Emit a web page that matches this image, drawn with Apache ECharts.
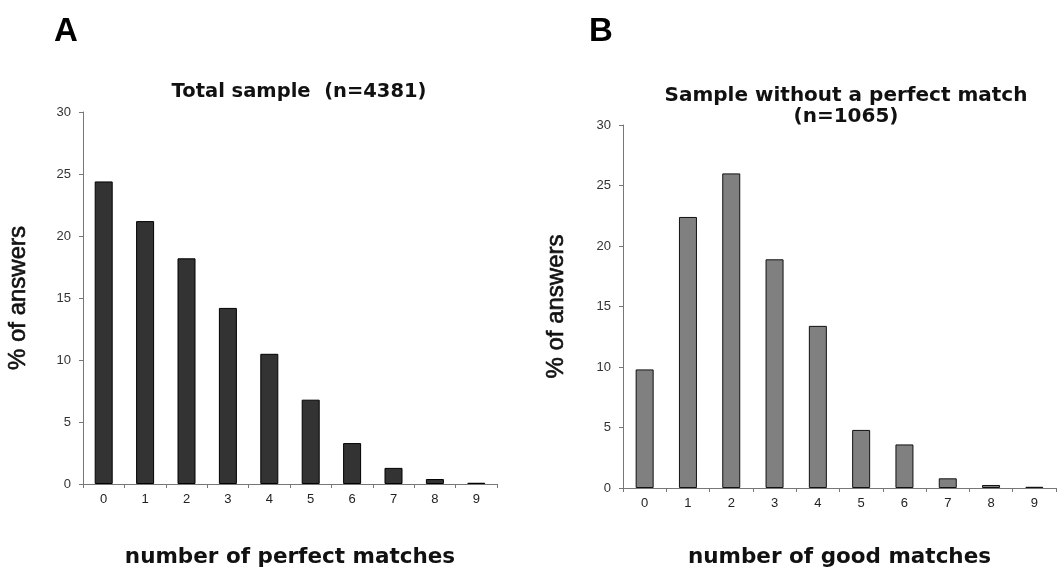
<!DOCTYPE html>
<html>
<head>
<meta charset="utf-8">
<script src="https://cdn.jsdelivr.net/npm/echarts@6/dist/echarts.min.js"></script>
<style>html,body{margin:0;padding:0;background:#fff;}#c{width:1059px;height:581px;}</style>
</head>
<body>
<div id="c"></div>
<script>
const categories = ['0','1','2','3','4','5','6','7','8','9'];
const totalSample = [24.4, 21.2, 18.2, 14.2, 10.5, 6.8, 3.3, 1.3, 0.4, 0.1];
const noPerfectSample = [9.8, 22.4, 26.0, 18.9, 13.4, 4.8, 3.6, 0.8, 0.25, 0.1];
const yTicks = [0, 5, 10, 15, 20, 25, 30];

const chart = echarts.init(document.getElementById('c'), null, {renderer: 'canvas'});

function xAxis(gridIndex, name, gap) {
  return {
    type: 'category', gridIndex, data: categories, boundaryGap: true,
    name, nameLocation: 'middle', nameGap: gap,
    nameTextStyle: {fontFamily: 'DejaVu Sans', fontWeight: 'bold', fontSize: 21.5, color: '#111'},
    axisLine: {lineStyle: {color: '#777', width: 1}},
    axisTick: {show: true, alignWithLabel: false, length: 4, inside: false, lineStyle: {color: '#777'}},
    axisLabel: {fontFamily: 'Liberation Sans Narrow, Liberation Sans, sans-serif', fontSize: 13, color: '#222', margin: 9}
  };
}
function yAxis(gridIndex, gap) {
  return {
    type: 'value', gridIndex, min: yTicks[0], max: yTicks[yTicks.length - 1], interval: 5,
    name: '% of answers', nameLocation: 'middle', nameGap: gap,
    nameTextStyle: {fontFamily: 'Liberation Sans, Arial, sans-serif', fontSize: 24, color: '#111',
                    textBorderColor: '#111', textBorderWidth: 0.6},
    splitLine: {show: false},
    axisLine: {show: true, lineStyle: {color: '#777', width: 1}},
    axisTick: {show: true, length: 4, lineStyle: {color: '#777'}},
    axisLabel: {fontFamily: 'Liberation Sans, Arial, sans-serif', fontSize: 13, color: '#333', margin: 12}
  };
}

chart.setOption({
  animation: false,
  backgroundColor: '#fff',
  title: [
    {text: 'A', left: 49, top: 10, textStyle: {fontFamily: 'Liberation Sans, Arial, sans-serif', fontWeight: 'bold', fontSize: 33, color: '#000'}},
    {text: 'B', left: 584, top: 10, textStyle: {fontFamily: 'Liberation Sans, Arial, sans-serif', fontWeight: 'bold', fontSize: 33, color: '#000'}},
    {text: 'Total sample  (n=4381)', left: 294, top: 77, textAlign: 'center',
     textStyle: {fontFamily: 'DejaVu Sans', fontWeight: 'bold', fontSize: 19.5, color: '#111'}},
    {text: 'Sample without a perfect match\n(n=1065)', left: 841, top: 80, textAlign: 'center',
     textStyle: {fontFamily: 'DejaVu Sans', fontWeight: 'bold', fontSize: 20, lineHeight: 21, color: '#111'}}
  ],
  grid: [
    {left: 83, right: 562, top: 112, bottom: 97},
    {left: 623, right: 3, top: 125, bottom: 93}
  ],
  xAxis: [xAxis(0, 'number of perfect matches', 62), xAxis(1, 'number of good matches', 58)],
  yAxis: [yAxis(0, 53), yAxis(1, 55)],
  series: [
    {type: 'bar', xAxisIndex: 0, yAxisIndex: 0, data: totalSample, barWidth: 18,
     itemStyle: {color: '#333333', borderColor: '#000', borderWidth: 1}},
    {type: 'bar', xAxisIndex: 1, yAxisIndex: 1, data: noPerfectSample, barWidth: 18,
     itemStyle: {color: '#808080', borderColor: '#111', borderWidth: 1}}
  ]
});
</script>
</body>
</html>
